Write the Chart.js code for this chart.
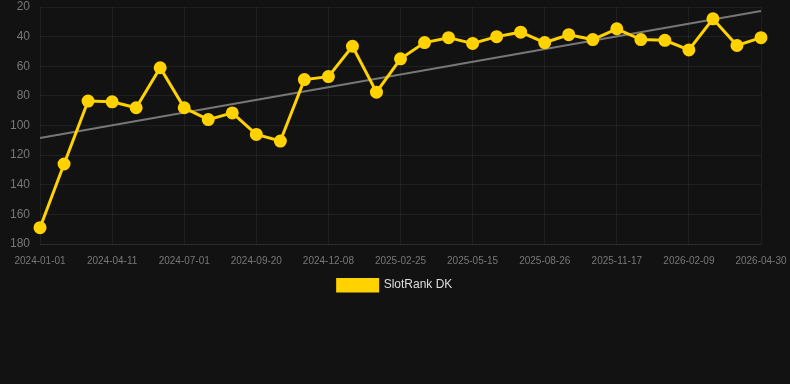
<!DOCTYPE html>
<html>
<head>
<meta charset="utf-8">
<script src="https://cdn.jsdelivr.net/npm/chart.js@4.4.1/dist/chart.umd.min.js"></script>
<style>
  html, body { margin: 0; padding: 0; background: #121212; }
  #wrap { width: 790px; height: 301px; position: relative; }
</style>
</head>
<body>
<div id="wrap"><canvas id="myChart"></canvas></div>
<script>
// dates (only every 3rd one is shown on the axis)
const labels = [
  '2024-01-01', '2024-02-04', '2024-03-09', '2024-04-11', '2024-05-08', '2024-06-04',
  '2024-07-01', '2024-07-28', '2024-08-24', '2024-09-20', '2024-10-16', '2024-11-12',
  '2024-12-08', '2025-01-03', '2025-01-29', '2025-02-25', '2025-03-23', '2025-04-19',
  '2025-05-15', '2025-06-19', '2025-07-23', '2025-08-26', '2025-09-22', '2025-10-20',
  '2025-11-17', '2025-12-15', '2026-01-12', '2026-02-09', '2026-03-06', '2026-04-02',
  '2026-04-30'
];

const rankDK = [
  169, 126, 83.5, 84, 88, 61, 88, 96, 91.5, 106, 110.5, 69,
  67, 46.5, 77.5, 55, 44, 40.7, 44.6, 40, 37, 44, 38.7, 42,
  34.7, 42, 42.5, 49, 28, 46, 40.7
];

// trend line, only the two ends
const trendStart = 108.5;
const trendEnd = 22.7;
const trend = labels.map((l, i) => i === 0 ? trendStart : (i === labels.length - 1 ? trendEnd : null));

const yTicks = [20, 40, 60, 80, 100, 120, 140, 160, 180];

const font = 'Liberation Sans, Arial, sans-serif';
const gridColor = 'rgba(255,255,255,0.06)';

new Chart(document.getElementById('myChart'), {
    type: 'line',
    data: {
        labels: labels,
        datasets: [{
            label: 'SlotRank DK',
            data: rankDK,
            borderColor: '#FFD200',
            backgroundColor: '#FFD200',
            borderWidth: 3,
            pointRadius: 5,
            pointHoverRadius: 6,
            tension: 0,
            fill: false
        }, {
            label: 'trend',
            data: trend,
            borderColor: '#777777',
            borderWidth: 2,
            pointRadius: 0,
            spanGaps: true,
            fill: false
        }]
    },
    options: {
        responsive: true,
        maintainAspectRatio: false,
        animation: false,
        layout: { autoPadding: false, padding: 0 },
        plugins: {
            legend: {
                position: 'bottom',
                labels: {
                    color: '#dddddd',
                    boxWidth: 40,
                    boxHeight: 12,
                    padding: 1,
                    font: { family: font, size: 12 },
                    filter: item => item.datasetIndex === 0
                }
            },
            tooltip: { enabled: false }
        },
        scales: {
            x: {
                grid: {
                    color: ctx => ctx.index % 3 === 0 ? gridColor : 'transparent',
                    drawTicks: false
                },
                border: { color: gridColor },
                ticks: {
                    color: '#777777',
                    autoSkip: false,
                    maxRotation: 0,
                    padding: 11,
                    font: { family: font, size: 10 },
                    callback: function (val, index) {
                        return index % 3 === 0 ? labels[index] : '';
                    }
                },
                afterFit: scale => { scale.paddingRight = 29; }
            },
            y: {
                reverse: true,
                min: 20,
                max: 180,
                afterBuildTicks: axis => { axis.ticks = yTicks.map(v => ({ value: v })); },
                grid: { color: gridColor, drawTicks: false },
                border: { display: false },
                ticks: {
                    color: '#777777',
                    padding: 10,
                    font: { family: font, size: 12 }
                },
                afterFit: scale => { scale.paddingTop = 7; }
            }
        }
    }
});
</script>
</body>
</html>
